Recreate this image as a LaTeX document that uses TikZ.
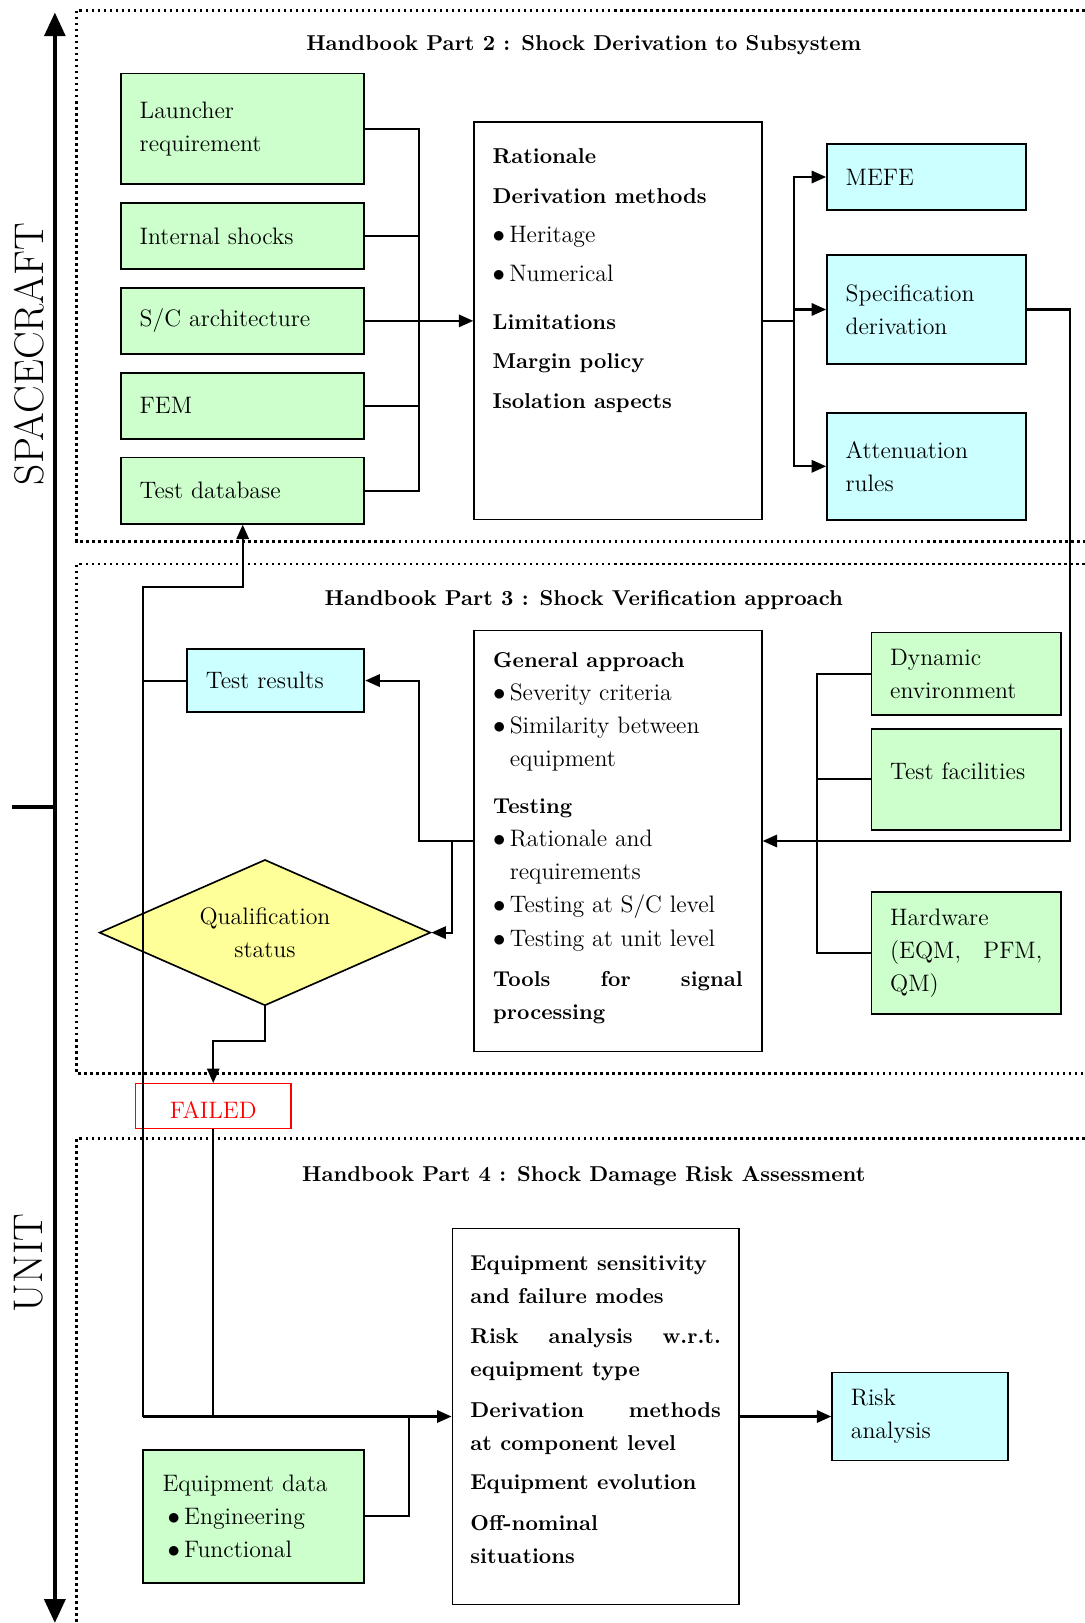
\documentclass[tikz,border=0pt]{standalone}
\usepackage{tikz}
\usetikzlibrary{arrows.meta, shapes.geometric}
\definecolor{boxgreen}{RGB}{204,255,204}
\definecolor{boxcyan}{RGB}{204,255,255}
\definecolor{boxyellow}{RGB}{255,255,153}
\newcommand{\hd}[1]{{\fontsize{10.4}{16}\selectfont\bfseries #1}}
\newcommand{\bul}{\makebox[8pt][l]{$\bullet$}}

\begin{document}
\begin{tikzpicture}[x=0.5pt, y=-0.5pt]
\tikzstyle{every node}+=[inner sep=0pt, font=\fontsize{11.5}{16}\selectfont]
\tikzstyle{greenbox}=[draw=black, line width=0.9pt, fill=boxgreen, inner xsep=9pt, align=left]
\tikzstyle{cyanbox}=[draw=black, line width=0.9pt, fill=boxcyan, inner xsep=9pt, align=left]
\tikzstyle{corebox}=[draw=black, line width=0.8pt, fill=white]
\tikzstyle{flow}=[draw=black, line width=1pt]
\tikzstyle{flowarrow}=[flow, -{Triangle[length=7pt, width=6pt]}]
\tikzstyle{partframe}=[line width=1.3pt, dash pattern=on 1.3pt off 1.6pt]
\tikzstyle{heading}=[font=\fontsize{10.4}{12}\selectfont\bfseries]
\useasboundingbox (0,0) rectangle (1048,1568);
\draw[partframe] (1048,10) -- (74,10) -- (74,523) -- (1048,523);
\draw[partframe] (1048,545) -- (74,545) -- (74,1037) -- (1048,1037);
\draw[partframe] (1048,1100) -- (74,1100) -- (74,1568);
\draw[line width=2pt, {Triangle[length=11.5pt, width=10pt]}-{Triangle[length=11.5pt, width=10pt]}] (53,12) -- (53,1568);
\draw[line width=2pt] (12,780) -- (53,780);
\node[rotate=90, font=\fontsize{20}{20}\selectfont] (scside) at (28,342) {SPACECRAFT};
\node[rotate=90, font=\fontsize{20}{20}\selectfont] (unitside) at (28,1220) {UNIT};
\node[heading] (title2) at (564,44) {Handbook Part 2 : Shock Derivation to Subsystem};
\node[heading] (title3) at (564,580) {Handbook Part 3 : Shock Verification approach};
\node[heading] (title4) at (564,1136) {Handbook Part 4 : Shock Damage Risk Assessment};
\node[greenbox, text width=99.5pt, minimum height=53.5pt] (launcher) at (234.5,124.5) {Launcher\\requirement};
\node[greenbox, text width=99.5pt, minimum height=32pt] (intshock) at (234.5,228) {Internal shocks};
\node[greenbox, text width=99.5pt, minimum height=32pt] (scarch) at (234.5,310) {S/C architecture};
\node[greenbox, text width=99.5pt, minimum height=32pt] (fem) at (234.5,392) {FEM};
\node[greenbox, text width=99.5pt, minimum height=32pt] (testdb) at (234.5,474) {Test database};
\node[corebox, minimum width=139pt, minimum height=192pt] (deriv) at (597,310) {\parbox[c][166pt][t]{121pt}{\fontsize{11.5}{19}\selectfont
  \hd{Rationale}\\ \hd{Derivation methods}\\ \bul Heritage\\ \bul Numerical\\[4pt]
  \hd{Limitations}\\ \hd{Margin policy}\\ \hd{Isolation aspects}}};
\node[cyanbox, text width=78pt, minimum height=32pt] (mefe) at (895,171) {MEFE};
\node[cyanbox, text width=78pt, minimum height=53pt] (specder) at (895,299) {Specification\\derivation};
\node[cyanbox, text width=78pt, minimum height=51.5pt] (atten) at (895,450.5) {Attenuation\\rules};
\node[cyanbox, text width=67.5pt, minimum height=30.5pt] (testres) at (266.5,657.5) {Test results};
\node[corebox, minimum width=139pt, minimum height=203.5pt] (verif) at (597,812.5) {\parbox[c][182pt][t]{120.5pt}{
  \hd{General approach}\\ \bul Severity criteria\\ \bul Similarity between\\ \hspace*{8pt}equipment\\[6.5pt]
  \hd{Testing}\\ \bul Rationale and\\ \hspace*{8pt}requirements\\ \bul Testing at S/C level\\ \bul Testing at unit level\\[3.5pt]
  \hd{Tools\hfill for\hfill signal}\\ \hd{processing}}};
\node[greenbox, text width=73.5pt, minimum height=40pt] (dynenv) at (933.5,651) {Dynamic\\environment};
\node[greenbox, text width=73.5pt, minimum height=49pt, text depth=8pt] (testfac) at (933.5,753) {Test facilities};
\node[greenbox, text width=73.5pt, minimum height=59pt] (hardware) at (933.5,921) {Hardware\\(EQM,\hfill PFM,\\QM)};
\node[diamond, aspect=2.27, draw=black, line width=0.8pt, fill=boxyellow, minimum width=160pt, minimum height=70.5pt, align=center] (qualif) at (256,901) {Qualification\\status};
\node[draw=red, line width=0.7pt, text=red, minimum width=75pt, minimum height=21.5pt, text height=12pt] (failed) at (206,1068.5) {FAILED};
\node[corebox, minimum width=138.5pt, minimum height=181.5pt] (damage) at (575.5,1368.5) {\parbox[c][155.5pt][t]{121pt}{\fontsize{10.4}{16}\selectfont\bfseries
  Equipment sensitivity\\ and failure modes\\[3.5pt] Risk\hfill analysis\hfill w.r.t.\\ equipment type\\[3.5pt]
  Derivation\hfill methods\\ at component level\\[3pt] Equipment evolution\\[3.5pt] Off-nominal\\ situations}};
\node[cyanbox, text width=67pt, minimum height=42.5pt] (riskan) at (889,1368.5) {Risk\\analysis};
\node[greenbox, text width=88pt, inner xsep=9.5pt, minimum height=64pt] (eqdata) at (245,1465) {Equipment data\\
  \hspace*{2.5pt}\bul Engineering\\ \hspace*{2.5pt}\bul Functional};
\coordinate (inbus) at (405,310);
\coordinate (outbus) at (767,310);
\coordinate (hwbus) at (789,812.5);
\coordinate (trtap) at (405,812.5);
\coordinate (qtap) at (437,812.5);
\coordinate (looptop) at (138,567);
\coordinate (loopbot) at (138,1368.5);
\coordinate (eqjoin) at (395,1368.5);
\draw[flow] (launcher.east) -| (inbus);
\draw[flow] (testdb.east) -| (inbus);
\draw[flow] (intshock.east) -- (intshock.east -| inbus);
\draw[flow] (fem.east) -- (fem.east -| inbus);
\draw[flowarrow] (scarch.east) -- (deriv.west);
\draw[flow] (deriv.east) -- (outbus);
\draw[flowarrow] (outbus) |- (mefe.west);
\draw[flowarrow] (outbus) |- (atten.west);
\draw[flowarrow] (specder.west -| outbus) -- (specder.west);
\draw[flowarrow] (specder.east) -- ++(42,0) |- (verif.east);
\draw[flow] (dynenv.west) -| (hwbus) |- (hardware.west);
\draw[flow] (testfac.west) -- (testfac.west -| hwbus);
\draw[flowarrow] (verif.west) -- (trtap) |- (testres.east);
\draw[flowarrow] (qtap) |- (qualif.east);
\draw[flowarrow] (loopbot) -- (looptop) -| (testdb.south);
\draw[flow] (testres.west) -- (testres.west -| looptop);
\draw[flowarrow] (qualif.south) -- ++(0,33) -| (failed.north);
\draw[flow] (failed.south) -- (failed.south |- loopbot);
\draw[flow] (eqdata.east) -| (eqjoin);
\draw[flowarrow] (loopbot) -- (damage.west);
\draw[flowarrow] (damage.east) -- (riskan.west);
\end{tikzpicture}
\end{document}
